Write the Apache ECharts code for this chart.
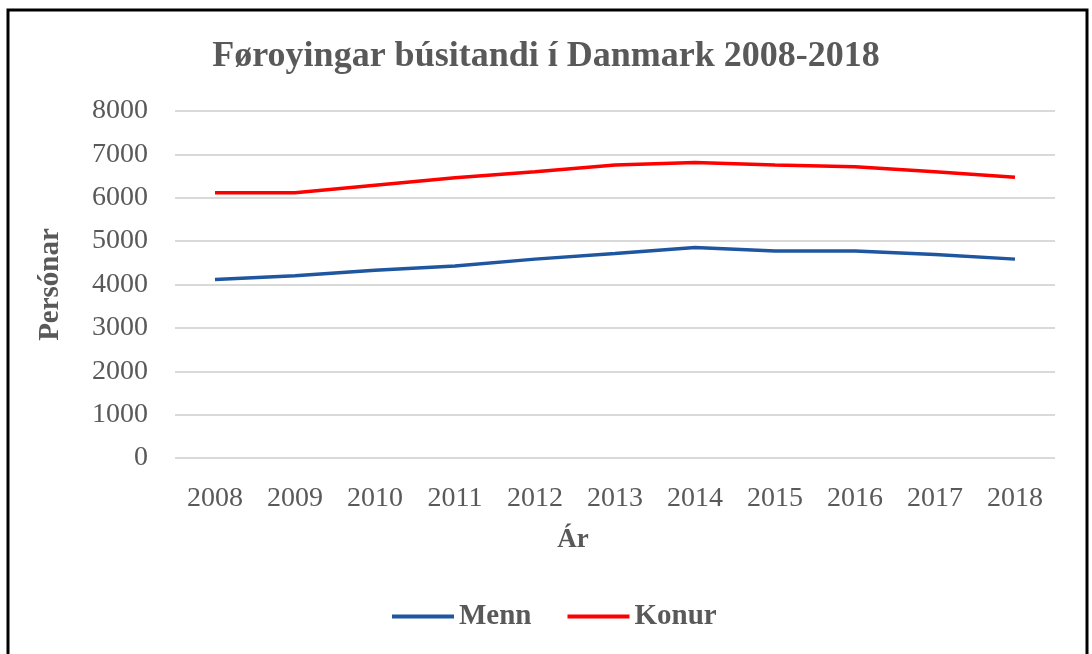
<!DOCTYPE html>
<html>
<head>
<meta charset="utf-8">
<script src="https://cdn.jsdelivr.net/npm/echarts@6/dist/echarts.min.js"></script>
<style>
html, body { margin: 0; padding: 0; background: #fff; }
#main { width: 1092px; height: 654px; }
</style>
</head>
<body>
<div id="main"></div>
<script>
// ár og tøl
var years = ['2008', '2009', '2010', '2011', '2012', '2013', '2014', '2015', '2016', '2017', '2018'];
var menn = [4115, 4200, 4330, 4425, 4585, 4715, 4855, 4775, 4775, 4690, 4585];
var konur = [6115, 6115, 6290, 6460, 6600, 6755, 6815, 6755, 6715, 6600, 6470];

var serif = '"Liberation Serif", "Times New Roman", serif';
var grey = '#595959';

var myChart = echarts.init(document.getElementById('main'));
var option = {
    backgroundColor: '#fff',
    graphic: [{
        // ramma
        type: 'rect',
        shape: { x: 8, y: 10, width: 1079, height: 700 },
        style: { fill: 'none', stroke: '#000', lineWidth: 3 },
        silent: true
    }, {
        // x-ás heiti
        type: 'text',
        x: 573,
        y: 540,
        style: {
            text: 'Ár',
            fontFamily: serif, fontSize: 27, fontWeight: 'bold', fill: grey,
            align: 'center', verticalAlign: 'middle'
        },
        silent: true
    }],
    title: {
        text: 'Føroyingar búsitandi í Danmark 2008-2018',
        left: 'center',
        top: 34,
        textStyle: { fontFamily: serif, fontSize: 36, fontWeight: 'bold', color: grey }
    },
    legend: {
        bottom: 18,
        left: 387,
        icon: 'rect',
        itemWidth: 62,
        itemHeight: 4,
        itemGap: 36,
        data: ['Menn', 'Konur'],
        textStyle: { fontFamily: serif, fontSize: 29, fontWeight: 'bold', color: grey }
    },
    grid: { left: 175, right: 37, top: 111, bottom: 196 },
    xAxis: {
        type: 'category',
        data: years,
        axisLine: { show: false },
        axisTick: { show: false },
        axisLabel: { fontFamily: serif, fontSize: 28, color: grey, margin: 27 }
    },
    yAxis: {
        type: 'value',
        min: 0,
        max: 8000,
        interval: 1000,
        name: 'Persónar',
        nameLocation: 'middle',
        nameGap: 110,
        nameTextStyle: { fontFamily: serif, fontSize: 29, fontWeight: 'bold', color: grey },
        axisLabel: {
            fontFamily: serif, fontSize: 28, color: grey, margin: 27,
            formatter: function (v) { return String(v); }
        },
        splitLine: { lineStyle: { color: '#d9d9d9', width: 2 } }
    },
    series: [{
        name: 'Menn',
        type: 'line',
        data: menn,
        symbol: 'none',
        lineStyle: { color: '#1f56a0', width: 3.5 },
        itemStyle: { color: '#1f56a0' }
    }, {
        name: 'Konur',
        type: 'line',
        data: konur,
        symbol: 'none',
        lineStyle: { color: '#ff0000', width: 3.5 },
        itemStyle: { color: '#ff0000' }
    }]
};
myChart.setOption(option);
</script>
</body>
</html>
